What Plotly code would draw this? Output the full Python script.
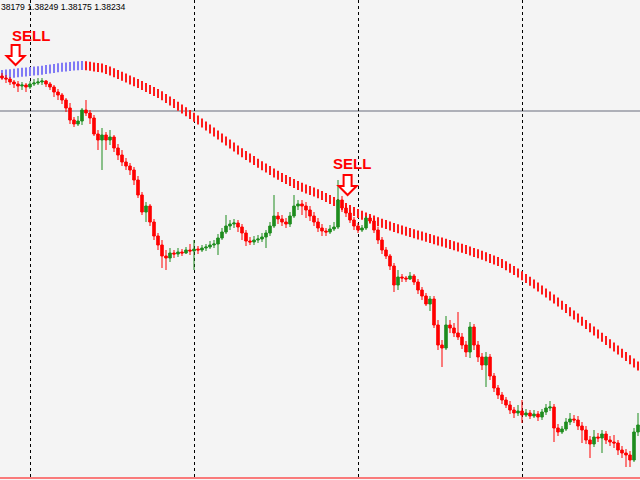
import plotly.graph_objects as go

bar_index = list(range(160))

open_ = [1.38584,1.38582,1.38581,1.38578,1.38576,1.38574,1.38575,1.38573,1.38576,1.38577,
         1.38578,1.38579,1.38576,1.38573,1.38568,1.38565,1.38560,1.38552,1.38540,1.38536,
         1.38539,1.38550,1.38547,1.38542,1.38526,1.38520,1.38525,1.38520,1.38523,1.38512,
         1.38505,1.38498,1.38494,1.38490,1.38480,1.38465,1.38448,1.38454,1.38438,1.38424,
         1.38415,1.38404,1.38402,1.38407,1.38406,1.38408,1.38407,1.38410,1.38409,1.38411,
         1.38410,1.38412,1.38413,1.38415,1.38416,1.38422,1.38428,1.38434,1.38436,1.38437,
         1.38433,1.38427,1.38419,1.38418,1.38420,1.38421,1.38423,1.38427,1.38434,1.38444,
         1.38441,1.38438,1.38436,1.38444,1.38454,1.38456,1.38454,1.38450,1.38444,1.38438,
         1.38432,1.38429,1.38428,1.38431,1.38433,1.38460,1.38452,1.38447,1.38440,1.38434,
         1.38430,1.38432,1.38442,1.38439,1.38430,1.38420,1.38410,1.38404,1.38394,1.38375,
         1.38383,1.38382,1.38381,1.38384,1.38378,1.38370,1.38364,1.38356,1.38361,1.38335,
         1.38315,1.38312,1.38335,1.38332,1.38327,1.38323,1.38315,1.38308,1.38333,1.38315,
         1.38303,1.38295,1.38303,1.38284,1.38272,1.38265,1.38260,1.38255,1.38250,1.38247,
         1.38249,1.38245,1.38247,1.38244,1.38246,1.38243,1.38248,1.38252,1.38253,1.38232,
         1.38228,1.38231,1.38238,1.38241,1.38240,1.38234,1.38230,1.38220,1.38216,1.38223,
         1.38222,1.38226,1.38220,1.38218,1.38217,1.38210,1.38207,1.38205,1.38200,1.38228]

close = [1.38582,1.38581,1.38578,1.38576,1.38574,1.38575,1.38573,1.38576,1.38577,1.38578,
         1.38579,1.38576,1.38573,1.38568,1.38565,1.38560,1.38552,1.38540,1.38536,1.38539,
         1.38550,1.38547,1.38542,1.38526,1.38520,1.38525,1.38520,1.38523,1.38512,1.38505,
         1.38498,1.38494,1.38490,1.38480,1.38465,1.38448,1.38454,1.38438,1.38424,1.38415,
         1.38404,1.38402,1.38407,1.38406,1.38408,1.38407,1.38410,1.38409,1.38411,1.38410,
         1.38412,1.38413,1.38415,1.38416,1.38422,1.38428,1.38434,1.38436,1.38437,1.38433,
         1.38427,1.38419,1.38418,1.38420,1.38421,1.38423,1.38427,1.38434,1.38444,1.38441,
         1.38438,1.38436,1.38444,1.38454,1.38456,1.38454,1.38450,1.38444,1.38438,1.38432,
         1.38429,1.38428,1.38431,1.38433,1.38460,1.38452,1.38447,1.38440,1.38434,1.38430,
         1.38432,1.38442,1.38439,1.38430,1.38420,1.38410,1.38404,1.38394,1.38375,1.38383,
         1.38382,1.38381,1.38384,1.38378,1.38370,1.38364,1.38356,1.38361,1.38335,1.38315,
         1.38312,1.38335,1.38332,1.38327,1.38323,1.38315,1.38308,1.38333,1.38315,1.38303,
         1.38295,1.38303,1.38284,1.38272,1.38265,1.38260,1.38255,1.38250,1.38247,1.38249,
         1.38245,1.38247,1.38244,1.38246,1.38243,1.38248,1.38252,1.38253,1.38232,1.38228,
         1.38231,1.38238,1.38241,1.38240,1.38234,1.38230,1.38220,1.38216,1.38223,1.38222,
         1.38226,1.38220,1.38218,1.38217,1.38210,1.38207,1.38205,1.38200,1.38228,1.38235]

high = [1.38587,1.38585,1.38583,1.38580,1.38579,1.38578,1.38577,1.38579,1.38581,1.38582,
        1.38582,1.38580,1.38578,1.38575,1.38571,1.38567,1.38562,1.38557,1.38543,1.38544,
        1.38552,1.38560,1.38550,1.38545,1.38530,1.38532,1.38528,1.38530,1.38525,1.38516,
        1.38510,1.38502,1.38497,1.38493,1.38484,1.38468,1.38458,1.38456,1.38441,1.38427,
        1.38420,1.38410,1.38412,1.38410,1.38412,1.38411,1.38413,1.38416,1.38420,1.38414,
        1.38415,1.38416,1.38419,1.38420,1.38426,1.38432,1.38445,1.38440,1.38441,1.38440,
        1.38436,1.38430,1.38423,1.38424,1.38425,1.38427,1.38430,1.38438,1.38465,1.38448,
        1.38445,1.38442,1.38448,1.38465,1.38460,1.38460,1.38458,1.38454,1.38448,1.38442,
        1.38436,1.38432,1.38435,1.38438,1.38480,1.38464,1.38455,1.38450,1.38443,1.38437,
        1.38435,1.38444,1.38444,1.38442,1.38433,1.38423,1.38413,1.38406,1.38397,1.38390,
        1.38386,1.38384,1.38388,1.38386,1.38381,1.38373,1.38367,1.38364,1.38364,1.38340,
        1.38320,1.38344,1.38340,1.38337,1.38348,1.38327,1.38319,1.38338,1.38336,1.38319,
        1.38307,1.38308,1.38306,1.38287,1.38275,1.38268,1.38263,1.38259,1.38253,1.38255,
        1.38260,1.38251,1.38250,1.38250,1.38249,1.38251,1.38256,1.38259,1.38256,1.38236,
        1.38234,1.38242,1.38247,1.38245,1.38244,1.38238,1.38234,1.38224,1.38230,1.38227,
        1.38230,1.38229,1.38224,1.38225,1.38220,1.38214,1.38211,1.38209,1.38232,1.38247]

low = [1.38580,1.38577,1.38575,1.38572,1.38568,1.38570,1.38568,1.38571,1.38574,1.38575,
       1.38575,1.38573,1.38570,1.38563,1.38560,1.38556,1.38548,1.38536,1.38533,1.38534,
       1.38535,1.38544,1.38536,1.38524,1.38510,1.38490,1.38510,1.38515,1.38508,1.38500,
       1.38494,1.38490,1.38485,1.38475,1.38462,1.38445,1.38438,1.38434,1.38420,1.38410,
       1.38392,1.38390,1.38398,1.38402,1.38403,1.38404,1.38406,1.38405,1.38390,1.38406,
       1.38408,1.38409,1.38411,1.38412,1.38405,1.38420,1.38426,1.38430,1.38432,1.38428,
       1.38420,1.38414,1.38415,1.38415,1.38417,1.38418,1.38412,1.38424,1.38432,1.38436,
       1.38434,1.38432,1.38433,1.38442,1.38450,1.38445,1.38442,1.38439,1.38434,1.38428,
       1.38424,1.38424,1.38426,1.38429,1.38431,1.38448,1.38443,1.38437,1.38430,1.38427,
       1.38428,1.38430,1.38436,1.38427,1.38416,1.38406,1.38401,1.38390,1.38368,1.38370,
       1.38378,1.38378,1.38380,1.38375,1.38366,1.38360,1.38354,1.38349,1.38332,1.38310,
       1.38293,1.38310,1.38327,1.38323,1.38320,1.38311,1.38303,1.38302,1.38310,1.38298,
       1.38290,1.38273,1.38280,1.38268,1.38261,1.38256,1.38252,1.38246,1.38242,1.38244,
       1.38237,1.38243,1.38241,1.38242,1.38239,1.38240,1.38245,1.38249,1.38218,1.38224,
       1.38226,1.38229,1.38235,1.38237,1.38230,1.38217,1.38216,1.38202,1.38213,1.38218,
       1.38207,1.38216,1.38214,1.38212,1.38205,1.38202,1.38193,1.38193,1.38198,1.38224]

trend_ma = [1.385900,1.385904,1.385908,1.385912,1.385918,1.385922,1.385926,1.385930,1.385934,1.385938,
            1.385943,1.385949,1.385955,1.385961,1.385967,1.385972,1.385976,1.385980,1.385984,1.385988,
            1.385989,1.385987,1.385982,1.385976,1.385970,1.385964,1.385950,1.385934,1.385917,1.385900,
            1.385882,1.385864,1.385845,1.385827,1.385810,1.385790,1.385770,1.385750,1.385730,1.385710,
            1.385687,1.385660,1.385635,1.385610,1.385583,1.385556,1.385528,1.385500,1.385472,1.385444,
            1.385415,1.385385,1.385355,1.385325,1.385295,1.385265,1.385235,1.385205,1.385175,1.385145,
            1.385117,1.385090,1.385065,1.385040,1.385013,1.384988,1.384964,1.384940,1.384916,1.384892,
            1.384870,1.384850,1.384830,1.384810,1.384790,1.384772,1.384756,1.384740,1.384724,1.384708,
            1.384690,1.384670,1.384650,1.384630,1.384610,1.384590,1.384570,1.384550,1.384530,1.384510,
            1.384492,1.384476,1.384460,1.384444,1.384428,1.384413,1.384399,1.384385,1.384371,1.384357,
            1.384344,1.384332,1.384320,1.384308,1.384296,1.384284,1.384272,1.384260,1.384248,1.384236,
            1.384224,1.384212,1.384200,1.384188,1.384176,1.384163,1.384149,1.384135,1.384121,1.384107,
            1.384093,1.384077,1.384061,1.384045,1.384029,1.384010,1.383987,1.383963,1.383939,1.383914,
            1.383887,1.383860,1.383832,1.383804,1.383775,1.383745,1.383715,1.383685,1.383655,1.383624,
            1.383592,1.383560,1.383528,1.383496,1.383464,1.383432,1.383400,1.383368,1.383336,1.383304,
            1.383272,1.383240,1.383208,1.383176,1.383144,1.383112,1.383080,1.383048,1.383016,1.382984]

sell_bar = [3.4, 86.4]
sell_price = [1.38595, 1.38465]
sell_label_bar = [7.25, 87.5]
sell_label_price = [1.38625, 1.38497]
sell_label = ["SELL", "SELL"]

bid_level = 1.38549
ask_level = 1.38182
grid_bars = [7, 48, 89, 130]
header_text = "38179 1.38249 1.38175 1.38234"

TICK = 0.00009
UP_COL = "rgb(128,122,245)"
DN_COL = "#ff1a1a"
ma_colors = [UP_COL if i == 0 or trend_ma[i] >= trend_ma[i - 1] else DN_COL
             for i in range(len(trend_ma))]

# hollow down-arrow outline, in pixels relative to the signal point (tip at 0,0)
ARROW_PATH = "M -4,20 L 4,20 L 4,9 L 9,9 L 0,0 L -9,9 L -4,9 Z"

fig = go.Figure()
fig.add_trace(go.Bar(
    x=bar_index, y=[TICK] * len(trend_ma), base=[m - TICK for m in trend_ma],
    width=0.5, marker=dict(color=ma_colors, line=dict(width=0)), hoverinfo="skip"))
fig.add_trace(go.Candlestick(
    x=bar_index, open=open_, high=high, low=low, close=close,
    increasing=dict(line=dict(color="#1e8c1e", width=1), fillcolor="#1e8c1e"),
    decreasing=dict(line=dict(color="#ff0000", width=1), fillcolor="#ff0000"),
    whiskerwidth=0, hoverinfo="skip"))

fig.add_hline(y=bid_level, line=dict(color="#aeb0b8", width=2), layer="below")
fig.add_hline(y=ask_level, line=dict(color="#ff0000", width=1))

for bx, by in zip(sell_bar, sell_price):
    fig.add_shape(type="path", xref="x", yref="y", xsizemode="pixel", ysizemode="pixel",
                  xanchor=bx, yanchor=by, path=ARROW_PATH,
                  line=dict(color="#ff0000", width=2), fillcolor="white")
for lx, ly, lt in zip(sell_label_bar, sell_label_price, sell_label):
    fig.add_annotation(x=lx, y=ly, text="<b>%s</b>" % lt, showarrow=False,
                       font=dict(family="Liberation Sans", size=15, color="#ff0000"))

fig.add_annotation(xref="paper", yref="paper", x=0, y=1, xanchor="left", yanchor="top",
                   text=header_text, showarrow=False, xshift=-1, yshift=0,
                   font=dict(family="Liberation Sans", size=8.6, color="black"))

fig.update_layout(
    width=640, height=480, margin=dict(l=0, r=0, t=0, b=0, autoexpand=False),
    paper_bgcolor="#f4f4f4", plot_bgcolor="#f4f4f4", showlegend=False,
    boxgap=0.1,
    xaxis=dict(range=[-0.5, 159.5], tickvals=grid_bars, showticklabels=False, ticks="",
               showgrid=True, gridcolor="black", griddash="dot", gridwidth=1,
               zeroline=False, rangeslider=dict(visible=False)),
    yaxis=dict(range=[1.38180, 1.38660], showticklabels=False, showgrid=False,
               zeroline=False),
)
fig.write_html("out.html", config={"displayModeBar": False},
               post_script="document.body.style.margin='0';")
